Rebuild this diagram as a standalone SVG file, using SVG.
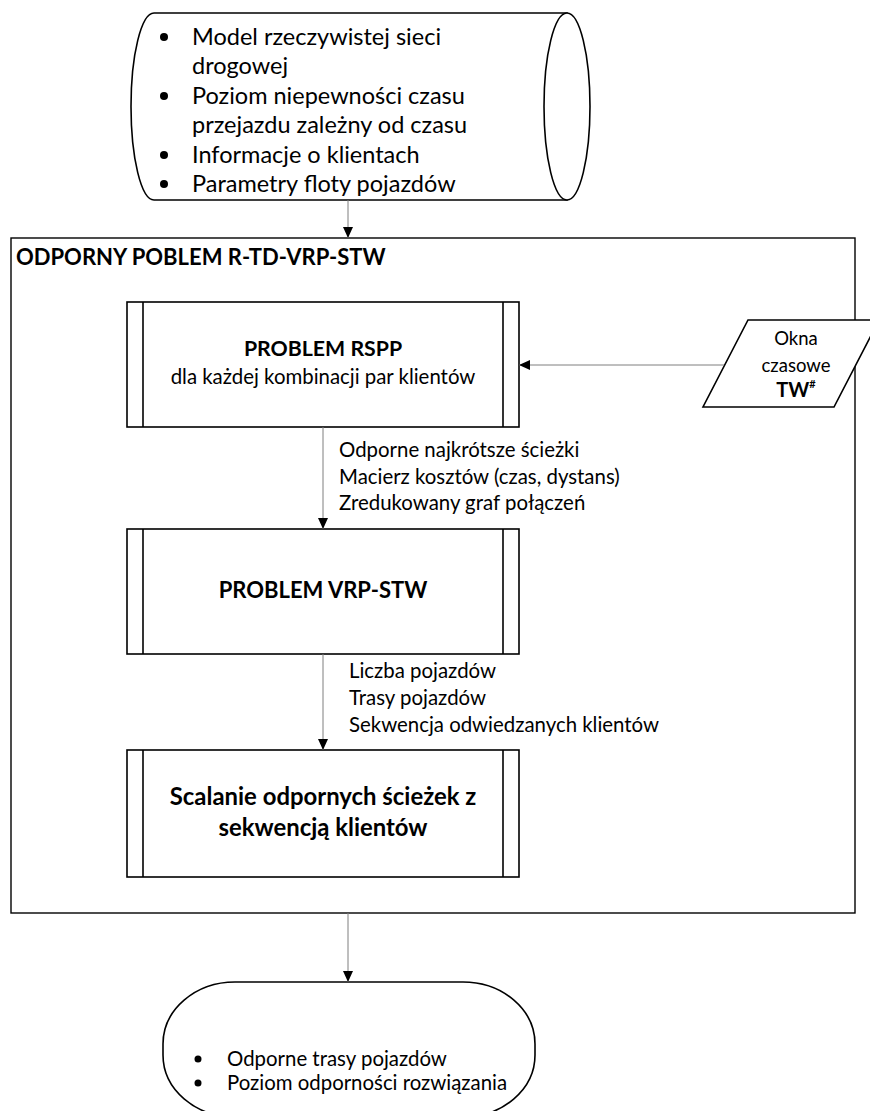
<svg xmlns="http://www.w3.org/2000/svg" width="870" height="1111" viewBox="0 0 870 1111">
  <defs>
    <style>
      text { font-family: Lato, "Noto Sans", "Liberation Sans", sans-serif; fill: #000; }
      .shape { fill: #fff; stroke: #000; stroke-width: 1.6; }
      .frame { fill: none; stroke: #000; stroke-width: 1.4; }
      .bar { stroke: #000; stroke-width: 1.6; }
      .conn { fill: none; stroke: #7f7f7f; stroke-width: 1; }
      .big { font-size: 23.5px; }
      .title { font-size: 22px; font-weight: bold; }
      .head { font-size: 22px; font-weight: bold; text-anchor: middle; }
      .small { font-size: 20.4px; }
      .io { font-size: 18.5px; text-anchor: middle; }
      .mid { text-anchor: middle; }
    </style>
    <marker id="arrow" markerUnits="userSpaceOnUse" markerWidth="12" markerHeight="10" refX="11" refY="5" orient="auto">
      <path d="M0,0 L11,5 L0,10 Z" fill="#000"/>
    </marker>
  </defs>

  <!-- input data store (drum) -->
  <g id="input-data">
    <path class="shape" d="M154,13 L567,13 L567,200 L154,200 A23,93.5 0 0 1 154,13 Z"/>
    <ellipse class="shape" cx="567" cy="106.5" rx="23" ry="93.5"/>
    <g class="big">
      <circle cx="164" cy="37" r="4"/>
      <text x="192" y="45">Model rzeczywistej sieci</text>
      <text x="192" y="74">drogowej</text>
      <circle cx="164" cy="96" r="4"/>
      <text x="192" y="104">Poziom niepewności czasu</text>
      <text x="192" y="133">przejazdu zależny od czasu</text>
      <circle cx="164" cy="155" r="4"/>
      <text x="192" y="163">Informacje o klientach</text>
      <circle cx="164" cy="184" r="4"/>
      <text x="192" y="192">Parametry floty pojazdów</text>
    </g>
  </g>

  <!-- outer frame of the robust problem -->
  <g id="robust-problem">
    <rect class="frame" x="11" y="238" width="844" height="675"/>
    <text class="title" x="16" y="265">ODPORNY POBLEM R-TD-VRP-STW</text>
  </g>

  <!-- time windows input -->
  <g id="time-windows">
    <polygon class="shape" points="748,320 879,320 834,407 703,407"/>
    <text class="io" x="796" y="345">Okna</text>
    <text class="io" x="796" y="372">czasowe</text>
    <text class="io" x="796" y="397" style="font-weight:bold;font-size:20px">TW<tspan style="font-size:11px" dy="-9">#</tspan></text>
  </g>

  <!-- predefined process: RSPP -->
  <g id="rspp">
    <rect class="shape" x="127" y="302" width="392" height="125"/>
    <line class="bar" x1="143" y1="302" x2="143" y2="427"/>
    <line class="bar" x1="503" y1="302" x2="503" y2="427"/>
    <text class="head" x="323" y="356" style="font-size:21.3px">PROBLEM RSPP</text>
    <text class="small mid" x="323" y="384">dla każdej kombinacji par klientów</text>
  </g>

  <!-- predefined process: VRP-STW -->
  <g id="vrp-stw">
    <rect class="shape" x="127" y="529" width="392" height="125"/>
    <line class="bar" x1="143" y1="529" x2="143" y2="654"/>
    <line class="bar" x1="503" y1="529" x2="503" y2="654"/>
    <text class="head" x="323" y="598">PROBLEM VRP-STW</text>
  </g>

  <!-- predefined process: merging -->
  <g id="merge">
    <rect class="shape" x="127" y="750" width="392" height="127"/>
    <line class="bar" x1="143" y1="750" x2="143" y2="877"/>
    <line class="bar" x1="503" y1="750" x2="503" y2="877"/>
    <text class="head" x="323" y="805" style="font-size:23.9px">Scalanie odpornych ścieżek z</text>
    <text class="head" x="323" y="836" style="font-size:23.9px">sekwencją klientów</text>
  </g>

  <!-- output terminator -->
  <g id="output">
    <rect class="shape" x="163" y="982" width="372" height="135" rx="72" ry="62"/>
    <circle cx="198" cy="1059" r="3.5"/>
    <text class="small" x="227" y="1066">Odporne trasy pojazdów</text>
    <circle cx="198" cy="1083" r="3.5"/>
    <text class="small" x="227" y="1090">Poziom odporności rozwiązania</text>
  </g>

  <!-- connectors -->
  <g id="connectors">
    <line class="conn" x1="348" y1="200" x2="348" y2="238" marker-end="url(#arrow)"/>
    <line class="conn" x1="724" y1="365" x2="519" y2="365" marker-end="url(#arrow)"/>
    <line class="conn" x1="323" y1="427" x2="323" y2="529" marker-end="url(#arrow)"/>
    <line class="conn" x1="323" y1="654" x2="323" y2="750" marker-end="url(#arrow)"/>
    <line class="conn" x1="348" y1="913" x2="348" y2="982" marker-end="url(#arrow)"/>
    <g class="small">
      <text x="339" y="457">Odporne najkrótsze ścieżki</text>
      <text x="339" y="484">Macierz kosztów (czas, dystans)</text>
      <text x="339" y="510">Zredukowany graf połączeń</text>
      <text x="349" y="678">Liczba pojazdów</text>
      <text x="349" y="705">Trasy pojazdów</text>
      <text x="349" y="732">Sekwencja odwiedzanych klientów</text>
    </g>
  </g>
</svg>
